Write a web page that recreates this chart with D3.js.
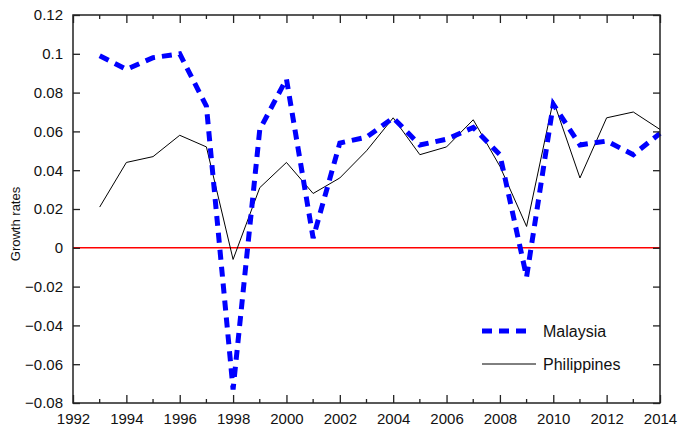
<!DOCTYPE html>
<html><head><meta charset="utf-8">
<script src="https://cdn.jsdelivr.net/npm/d3@7"></script>
<style>body{margin:0;background:#fff}svg{display:block}text{font-family:"Liberation Sans",Arial,sans-serif;fill:#111}</style>
</head><body><svg id="c" width="678" height="426"></svg>
<script>
const years = [1993,1994,1995,1996,1997,1998,1999,2000,2001,2002,2003,2004,2005,2006,2007,2008,2009,2010,2011,2012,2013,2014];
const malaysia = [0.099,0.092,0.098,0.100,0.073,-0.073,0.061,0.087,0.005,0.054,0.057,0.067,0.053,0.056,0.062,0.048,-0.015,0.074,0.053,0.055,0.048,0.059];
const philippines = [0.021,0.044,0.047,0.058,0.052,-0.006,0.031,0.044,0.028,0.036,0.050,0.067,0.048,0.052,0.066,0.042,0.011,0.076,0.036,0.067,0.070,0.061];
const xTicks = [1992,1994,1996,1998,2000,2002,2004,2006,2008,2010,2012,2014];
const yTicks = [-0.08,-0.06,-0.04,-0.02,0,0.02,0.04,0.06,0.08,0.1,0.12];
const yTickLabels = ["\u22120.08","\u22120.06","\u22120.04","\u22120.02","0","0.02","0.04","0.06","0.08","0.1","0.12"];

const L=73,R=660,T=15,B=403;
const svg=d3.select("#c");
const x=d3.scaleLinear().domain([1992,2014]).range([L,R]);
const y=d3.scaleLinear().domain([-0.08,0.12]).range([B,T]);
const minorX=d3.range(1993,2014,2);

svg.append("line").attr("x1",L).attr("x2",R).attr("y1",y(0)).attr("y2",y(0)).attr("stroke","#ff0000").attr("stroke-width",1.5);

const line=d3.line().x((d,i)=>x(years[i])).y(d=>y(d));
svg.append("path").datum(philippines).attr("d",line).attr("fill","none").attr("stroke","#000").attr("stroke-width",1);
svg.append("path").datum(malaysia).attr("d",line).attr("fill","none").attr("stroke","#0000ff").attr("stroke-width",5).attr("stroke-dasharray","10,7");

svg.append("rect").attr("x",L).attr("y",T).attr("width",R-L).attr("height",B-T).attr("fill","none").attr("stroke","#222").attr("stroke-width",1.5);

const gx=svg.append("g").attr("transform",`translate(0,${B})`)
  .call(d3.axisBottom(x).tickValues(xTicks).tickFormat(d3.format("d")).tickSizeInner(-8).tickSizeOuter(0).tickPadding(10));
gx.selectAll("text").attr("font-size",15);
const gy=svg.append("g").attr("transform",`translate(${L},0)`)
  .call(d3.axisLeft(y).tickValues(yTicks).tickFormat((d,i)=>yTickLabels[i]).tickSizeInner(-7).tickSizeOuter(0).tickPadding(10));
gy.selectAll("text").attr("font-size",15);
[gx,gy].forEach(g=>{g.select(".domain").remove();g.selectAll(".tick line").attr("stroke","#222").attr("stroke-width",1.3);});
svg.append("g").attr("transform",`translate(0,${T})`).call(d3.axisTop(x).tickValues(xTicks).tickFormat("").tickSizeInner(-8).tickSizeOuter(0))
  .call(g=>{g.select(".domain").remove();g.selectAll(".tick line").attr("stroke","#222").attr("stroke-width",1.3);});
svg.append("g").attr("transform",`translate(${R},0)`).call(d3.axisRight(y).tickValues(yTicks).tickFormat("").tickSizeInner(-7).tickSizeOuter(0))
  .call(g=>{g.select(".domain").remove();g.selectAll(".tick line").attr("stroke","#222").attr("stroke-width",1.3);});
[[B,-4],[T,4]].forEach(([yy,dy])=>{
  svg.append("g").selectAll("line").data(minorX).join("line")
    .attr("x1",d=>x(d)).attr("x2",d=>x(d)).attr("y1",yy).attr("y2",yy+dy).attr("stroke","#222").attr("stroke-width",1.3);
});

svg.append("text").attr("transform",`translate(20,${(T+B)/2+15}) rotate(-90)`).attr("text-anchor","middle").attr("font-size",13).text("Growth rates");

const lg=svg.append("g");
lg.append("line").attr("x1",482).attr("x2",528).attr("y1",331).attr("y2",331).attr("stroke","#0000ff").attr("stroke-width",5).attr("stroke-dasharray","10,7");
lg.append("text").attr("x",543).attr("y",337).attr("font-size",16).text("Malaysia");
lg.append("line").attr("x1",482).attr("x2",536).attr("y1",364).attr("y2",364).attr("stroke","#000").attr("stroke-width",1);
lg.append("text").attr("x",543).attr("y",370).attr("font-size",16).text("Philippines");
</script></body></html>
